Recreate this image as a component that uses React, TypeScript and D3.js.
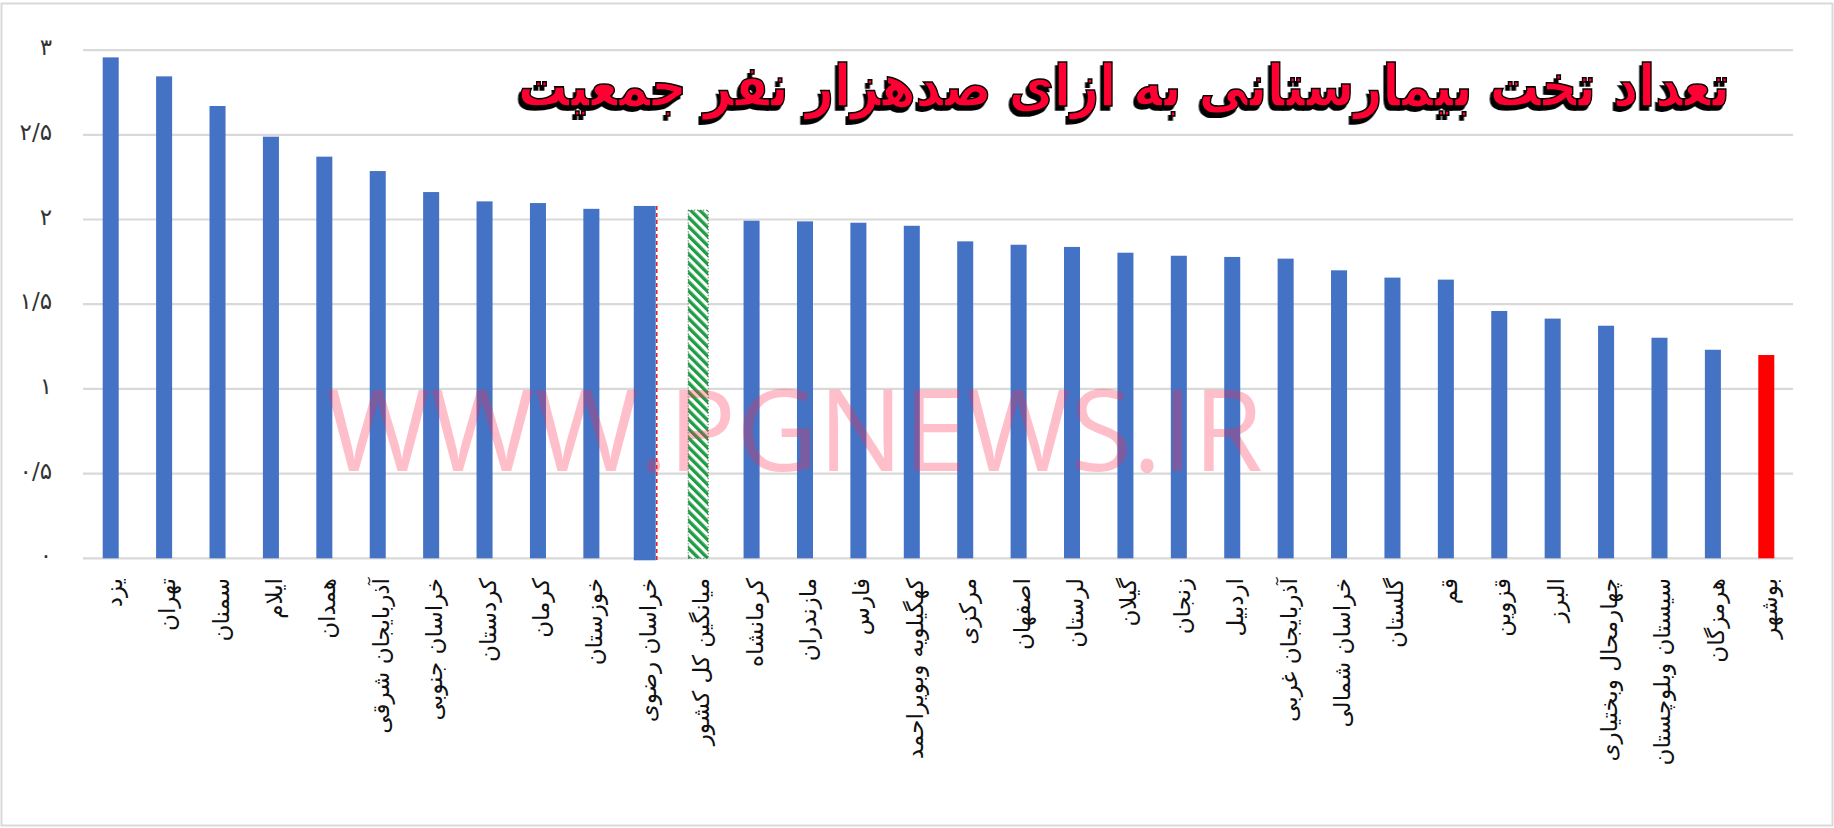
import React, { useLayoutEffect, useRef, useState } from "react";
import * as d3 from "d3";

const categories: string[] = [
  "یزد", "تهران", "سمنان", "ایلام", "همدان", "آذربایجان شرقی", "خراسان جنوبی", "کردستان",
  "کرمان", "خوزستان", "خراسان رضوی", "میانگین کل کشور", "کرمانشاه", "مازندران", "فارس",
  "کهگیلویه وبویراحمد", "مرکزی", "اصفهان", "لرستان", "گیلان", "زنجان", "اردبیل",
  "آذربایجان غربی", "خراسان شمالی", "گلستان", "قم", "قزوین", "البرز", "چهارمحال وبختیاری",
  "سیستان وبلوچستان", "هرمزگان", "بوشهر",
];

const values: number[] = [
  2.957, 2.845, 2.67, 2.489, 2.371, 2.286, 2.162, 2.107,
  2.097, 2.063, 2.08, 2.055, 1.993, 1.989, 1.981,
  1.963, 1.871, 1.851, 1.838, 1.804, 1.786, 1.779,
  1.769, 1.7, 1.657, 1.645, 1.46, 1.415, 1.373,
  1.302, 1.231, 1.2,
];

const tickValues: number[] = [0, 0.5, 1, 1.5, 2, 2.5, 3];
const tickLabels: string[] = ["۰", "۰/۵", "۱", "۱/۵", "۲", "۲/۵", "۳"];

const highlightProvince = "خراسان رضوی";
const averageCategory = "میانگین کل کشور";
const lowestProvince = "بوشهر";

const title = "تعداد تخت بیمارستانی به ازای صدهزار نفر جمعیت";
const watermark = "WWW.PGNEWS.IR";

const W = 1834;
const H = 828;

export default function App() {
  const x = d3.scaleBand<string>().domain(categories).range([84, 1793]).padding(0);
  const y = d3.scaleLinear().domain([0, 3]).range([558.3, 50.1]);
  const bw = x.bandwidth() * 0.3;
  const fontAr = "'DejaVu Sans', 'Noto Sans', sans-serif";

  const titleRef = useRef<SVGTextElement | null>(null);
  const [titleScale, setTitleScale] = useState(0.8);
  const titleWidth = 1212;
  useLayoutEffect(() => {
    if (titleRef.current) {
      const len = titleRef.current.getComputedTextLength();
      if (len > 0) setTitleScale(titleWidth / len);
    }
  }, []);

  return (
    <svg
      width={W}
      height={H}
      style={{ position: "absolute", left: 0, top: 0, background: "#ffffff" }}
    >
      <defs>
        <pattern
          id="hatch"
          patternUnits="userSpaceOnUse"
          width="6.5"
          height="6.5"
          patternTransform="rotate(-45)"
        >
          <rect width="6.5" height="6.5" fill="#ffffff" />
          <rect x="0" y="0" width="3.4" height="6.5" fill="#1f9d45" />
        </pattern>
        <filter id="shadow" x="-10%" y="-60%" width="120%" height="220%">
          <feDropShadow dx="-3" dy="4" stdDeviation="0" floodColor="#000" floodOpacity="1" />
        </filter>
      </defs>

      <rect x={1.5} y={3.5} width={1831} height={822} fill="none" stroke="#d9d9d9" strokeWidth={2} />

      {/* gridlines */}
      {tickValues.map((t) => (
        <line
          key={"g" + t}
          x1={83}
          x2={1793}
          y1={y(t)}
          y2={y(t)}
          stroke="#d9d9d9"
          strokeWidth={2.2}
        />
      ))}

      {/* y tick labels */}
      {tickValues.map((t, i) => (
        <text
          key={"t" + t}
          x={52}
          y={y(t) - 3}
          textAnchor="end"
          dominantBaseline="central"
          fontFamily={fontAr}
          fontSize={23}
          fill="#333"
        >
          {tickLabels[i]}
        </text>
      ))}

      {/* bars */}
      {categories.map((c, i) => {
        const cx = (x(c) as number) + x.bandwidth() / 2;
        const top = y(values[i]);
        const h = y(0) - top;
        if (c === averageCategory) {
          const w = 20;
          return (
            <rect
              key={c}
              x={cx - w / 2}
              y={top}
              width={w}
              height={h}
              fill="url(#hatch)"
              stroke="#2d5a3a"
              strokeWidth={1}
              strokeDasharray="1 2"
            />
          );
        }
        if (c === highlightProvince) {
          const w = 22;
          return (
            <g key={c}>
              <rect x={cx - w / 2} y={top} width={w} height={h + 2} fill="#4472c4" />
              <line
                x1={cx + w / 2 + 1}
                x2={cx + w / 2 + 1}
                y1={top}
                y2={y(0) + 2}
                stroke="#e02020"
                strokeWidth={1.5}
                strokeDasharray="4 3"
              />
            </g>
          );
        }
        return (
          <rect
            key={c}
            x={cx - bw / 2}
            y={top}
            width={bw}
            height={h}
            fill={c === lowestProvince ? "#ff0000" : "#4472c4"}
          />
        );
      })}

      {/* category labels */}
      {categories.map((c) => {
        const cx = (x(c) as number) + x.bandwidth() / 2 + 3;
        return (
          <text
            key={"l" + c}
            transform={`translate(${cx},${578}) rotate(-90)`}
            textAnchor="end"
            dominantBaseline="central"
            fontFamily={fontAr}
            fontSize={23}
            fill="#111"
          >
            {c}
          </text>
        );
      })}

      {/* watermark */}
      <text
        x={326}
        y={471}
        fontFamily="'Open Sans', 'Liberation Sans', sans-serif"
        fontSize={114}
        textLength={937}
        lengthAdjust="spacingAndGlyphs"
        fill="#ff2a50"
        fillOpacity={0.3}
      >
        {watermark}
      </text>

      {/* title */}
      <g transform={`translate(1124,106) scale(${titleScale},1)`} filter="url(#shadow)">
        <text
          ref={titleRef}
          x={0}
          y={0}
          textAnchor="middle"
          fontFamily={fontAr}
          fontWeight="bold"
          fontSize={58}
          fill="#ff0033"
          stroke="#000"
          strokeWidth={1.6}
        >
          {title}
        </text>
      </g>
    </svg>
  );
}
